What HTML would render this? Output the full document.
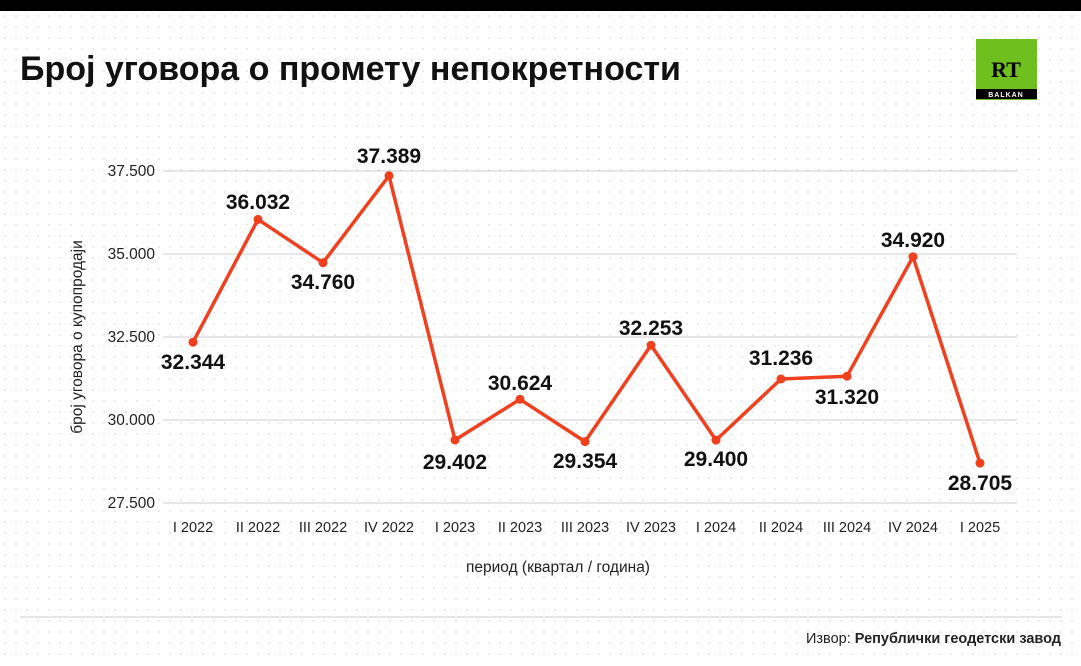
<!DOCTYPE html>
<html><head><meta charset="utf-8"><style>
body{margin:0;width:1081px;height:661px;overflow:hidden;background:#fff;font-family:"Liberation Sans",sans-serif;}
</style></head><body>
<svg width="1081" height="661" viewBox="0 0 1081 661" xmlns="http://www.w3.org/2000/svg" font-family="Liberation Sans, sans-serif">
<defs><pattern id="d" width="11" height="11" patternUnits="userSpaceOnUse"><circle cx="5" cy="5" r="0.9" fill="#dcdcdc"/></pattern></defs>
<rect width="1081" height="661" fill="#fff"/>
<rect width="1081" height="661" fill="url(#d)"/>
<rect width="1081" height="11" fill="#000"/>
<text x="20" y="80" font-size="34" font-weight="bold" fill="#111">Број уговора о промету непокретности</text>
<rect x="976" y="39" width="61" height="61" fill="#6fbf1f"/>
<text x="1006" y="77" font-size="22" font-weight="900" text-anchor="middle" fill="#000" font-family="Liberation Serif, serif">RT</text>
<rect x="976" y="89" width="61" height="10" fill="#000"/>
<text x="1006" y="97" font-size="7" font-weight="bold" text-anchor="middle" fill="#fff" letter-spacing="1">BALKAN</text>
<g stroke="#ccc" stroke-width="1">
<line x1="163" y1="171" x2="1017" y2="171"/><line x1="163" y1="254" x2="1017" y2="254"/><line x1="163" y1="337" x2="1017" y2="337"/><line x1="163" y1="420" x2="1017" y2="420"/><line x1="163" y1="503" x2="1017" y2="503"/>
</g>
<g font-size="15.5" fill="#222" text-anchor="end">
<text x="155" y="176">37.500</text><text x="155" y="259">35.000</text><text x="155" y="342">32.500</text><text x="155" y="425">30.000</text><text x="155" y="508">27.500</text>
</g>
<text transform="translate(82,337) rotate(-90)" font-size="15.5" fill="#222" text-anchor="middle">број уговора о купопродаји</text>
<g font-size="14.5" fill="#222" text-anchor="middle">
<text x="193" y="532">I 2022</text><text x="258" y="532">II 2022</text><text x="323" y="532">III 2022</text><text x="389" y="532">IV 2022</text><text x="455" y="532">I 2023</text><text x="520" y="532">II 2023</text><text x="585" y="532">III 2023</text><text x="651" y="532">IV 2023</text><text x="716" y="532">I 2024</text><text x="781" y="532">II 2024</text><text x="847" y="532">III 2024</text><text x="913" y="532">IV 2024</text><text x="980" y="532">I 2025</text>
</g>
<text x="558" y="572" font-size="15.5" fill="#222" text-anchor="middle">период (квартал / година)</text>
<polyline fill="none" stroke="#f0401e" stroke-width="3.5" stroke-linejoin="round" points="193,342.2 258,219.4 323,262.7 389,175.8 455,440 520,399.3 585,441.6 651,345.2 716,440.1 781,379 847,376.2 913,256.8 980,463.1"/>
<g fill="#f0401e">
<circle cx="193" cy="342.2" r="4.5"/><circle cx="258" cy="219.4" r="4.5"/><circle cx="323" cy="262.7" r="4.5"/><circle cx="389" cy="175.8" r="4.5"/><circle cx="455" cy="440" r="4.5"/><circle cx="520" cy="399.3" r="4.5"/><circle cx="585" cy="441.6" r="4.5"/><circle cx="651" cy="345.2" r="4.5"/><circle cx="716" cy="440.1" r="4.5"/><circle cx="781" cy="379" r="4.5"/><circle cx="847" cy="376.2" r="4.5"/><circle cx="913" cy="256.8" r="4.5"/><circle cx="980" cy="463.1" r="4.5"/>
</g>
<g font-size="21" font-weight="bold" fill="#111" text-anchor="middle">
<text x="193" y="369">32.344</text><text x="258" y="209">36.032</text><text x="323" y="289">34.760</text><text x="389" y="163">37.389</text><text x="455" y="469">29.402</text><text x="520" y="390">30.624</text><text x="585" y="468">29.354</text><text x="651" y="335">32.253</text><text x="716" y="466">29.400</text><text x="781" y="365">31.236</text><text x="847" y="404">31.320</text><text x="913" y="247">34.920</text><text x="980" y="490">28.705</text>
</g>
<line x1="20" y1="617" x2="1062" y2="617" stroke="#ccc"/>
<text x="1061" y="643" font-size="14.5" fill="#222" text-anchor="end">Извор: <tspan font-weight="bold">Републички геодетски завод</tspan></text>
</svg>
</body></html>
